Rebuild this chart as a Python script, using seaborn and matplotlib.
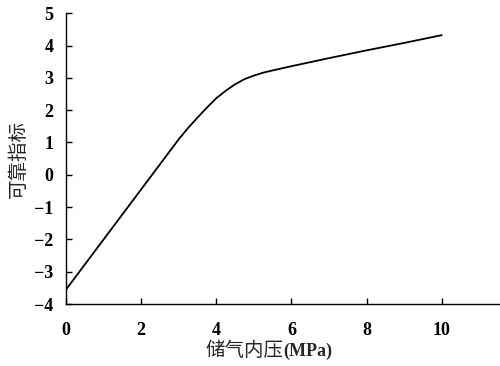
import matplotlib
matplotlib.use("Agg")
import matplotlib.pyplot as plt
import seaborn as sns
import pandas as pd

pressure = [0, 1, 2, 3, 3.25, 3.5, 3.75, 4, 4.25, 4.5, 4.75, 5, 5.25, 5.5, 6, 7, 8, 9, 10]
reliability = [-3.55, -2.0, -0.45, 1.1, 1.45, 1.77, 2.08, 2.37, 2.6, 2.8, 2.96, 3.07, 3.16, 3.23, 3.36, 3.61, 3.85, 4.08, 4.32]
x_ticks = [0, 2, 4, 6, 8, 10]
y_ticks = [-4, -3, -2, -1, 0, 1, 2, 3, 4, 5]
x_label_cn = "储气内压"
x_label_unit = "(MPa)"
y_label = "可靠指标"

sns.set_style("ticks")
plt.rcParams['font.family'] = ['Liberation Serif', 'Noto Sans CJK SC']
plt.rcParams['axes.unicode_minus'] = True

df = pd.DataFrame({"x": pressure, "y": reliability})

fig = plt.figure(figsize=(5.0, 3.66), dpi=100)
ax = fig.add_axes([0.132, 0.169, 0.868, 0.795])
sns.lineplot(data=df, x="x", y="y", ax=ax, color="black", linewidth=1.3)

ax.set_xlim(0, 11.55)
ax.set_ylim(-4, 5)
ax.set_xticks(x_ticks)
ax.set_yticks(y_ticks)
ax.set_xticklabels([str(v) for v in x_ticks], fontsize=13, fontweight='bold')
ax.set_yticklabels([str(v).replace('-', '\u2212') for v in y_ticks], fontsize=13, fontweight='bold')
ax.tick_params(axis='both', direction='in', length=4, width=1, colors='black')
ax.tick_params(axis='x', pad=13)
ax.tick_params(axis='y', pad=9)
for s in ['top', 'right']:
    ax.spines[s].set_visible(False)
for s in ['left', 'bottom']:
    ax.spines[s].set_linewidth(1.0)
    ax.spines[s].set_color('black')

ax.set_xlabel("")
ax.set_ylabel(y_label, fontsize=14, family=['Noto Sans CJK SC', 'Liberation Serif'], labelpad=4)
fig.text(0.566, 0.027, x_label_cn, ha='right', va='baseline', fontsize=14,
         family=['Noto Sans CJK SC', 'Liberation Serif'])
fig.text(0.566, 0.027, x_label_unit, ha='left', va='baseline', fontsize=13,
         fontweight='bold', family=['Liberation Serif'])

fig.savefig("out.png", dpi=100)
